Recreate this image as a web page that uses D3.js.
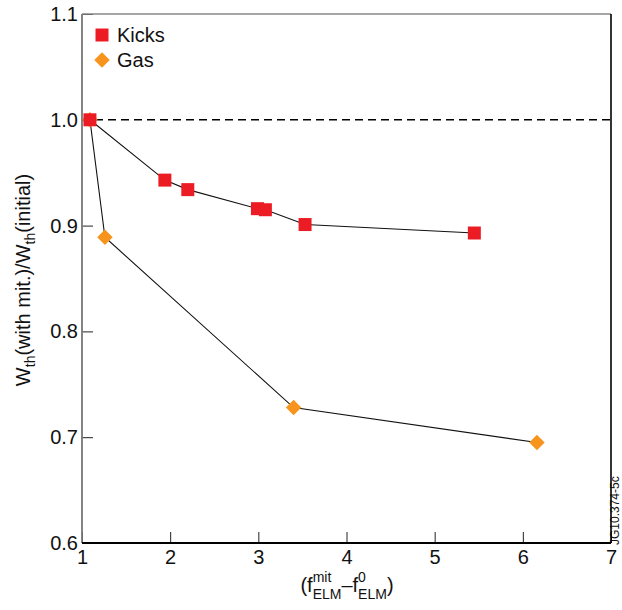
<!DOCTYPE html>
<html>
<head>
<meta charset="utf-8">
<script src="https://cdn.jsdelivr.net/npm/d3@7"></script>
<style>
  body { margin: 0; background: #fff; }
  text { font-family: "Liberation Sans", Arial, sans-serif; fill: #111; }
</style>
</head>
<body>
<div id="chart"></div>
<script>
const width = 622,
  height = 610,
  margin = { top: 14, right: 11, bottom: 67, left: 82 };

// data
const kicksX = [1.09, 1.94, 2.2, 2.99, 3.08, 3.53, 5.45];
const kicksY = [1.0, 0.943, 0.934, 0.916, 0.915, 0.901, 0.893];
const gasX = [1.09, 1.26, 3.4, 6.16];
const gasY = [1.0, 0.889, 0.728, 0.695];
const xTicks = [1, 2, 3, 4, 5, 6, 7];
const yTicks = [0.6, 0.7, 0.8, 0.9, 1.0, 1.1];
const refLine = 1.0;

const svg = d3.select("#chart")
  .append("svg")
  .attr("width", width)
  .attr("height", height);

const x = d3.scaleLinear().domain([1, 7]).range([margin.left, width - margin.right]);
const y = d3.scaleLinear().domain([0.6, 1.1]).range([height - margin.bottom, margin.top]);

const kicks = kicksX.map((v, i) => ({ x: v, y: kicksY[i] }));
const gas = gasX.map((v, i) => ({ x: v, y: gasY[i] }));

// reference dashed line
svg.append("line")
  .attr("x1", x(1)).attr("x2", x(7))
  .attr("y1", y(refLine)).attr("y2", y(refLine))
  .style("stroke", "#000")
  .style("stroke-width", 1.6)
  .style("stroke-dasharray", "8,5");

// axes (ticks pointing inward)
const xAxis = svg.append("g")
  .attr("transform", `translate(0,${y(0.6)})`)
  .call(d3.axisBottom(x).tickValues(xTicks).tickFormat(d3.format("d")).tickSizeInner(-11).tickSizeOuter(0).tickPadding(6));
xAxis.select(".domain").remove();
xAxis.selectAll("line").style("stroke", "#222").style("stroke-width", 1);
xAxis.selectAll("text").style("font-size", "20px").attr("dy", "0.9em").attr("y", 3);

const yAxis = svg.append("g")
  .attr("transform", `translate(${x(1)},0)`)
  .call(d3.axisLeft(y).tickValues(yTicks).tickFormat(d3.format(".1f")).tickSizeInner(-11).tickSizeOuter(0).tickPadding(5));
yAxis.select(".domain").remove();
yAxis.selectAll("line").style("stroke", "#222").style("stroke-width", 1);
yAxis.selectAll("text").style("font-size", "20px").attr("x", -4);

// frame: left/top grey, right/bottom black
svg.append("line").attr("x1", x(1)).attr("x2", x(1)).attr("y1", y(1.1)).attr("y2", y(0.6))
  .style("stroke", "#777").style("stroke-width", 1.8);
svg.append("line").attr("x1", x(1)).attr("x2", x(7)).attr("y1", y(1.1)).attr("y2", y(1.1))
  .style("stroke", "#888").style("stroke-width", 1.6);
svg.append("line").attr("x1", x(7)).attr("x2", x(7)).attr("y1", y(1.1)).attr("y2", y(0.6))
  .style("stroke", "#000").style("stroke-width", 1.6);
svg.append("line").attr("x1", x(1)).attr("x2", x(7)).attr("y1", y(0.6)).attr("y2", y(0.6))
  .style("stroke", "#000").style("stroke-width", 1.8);

const line = d3.line().x(d => x(d.x)).y(d => y(d.y));

svg.append("path").datum(gas).attr("d", line)
  .style("fill", "none").style("stroke", "#111").style("stroke-width", 1.1);
svg.append("path").datum(kicks).attr("d", line)
  .style("fill", "none").style("stroke", "#111").style("stroke-width", 1.1);

const diamond = d3.symbol().type(d3.symbolSquare).size(120);
const square = d3.symbol().type(d3.symbolSquare).size(169);

svg.selectAll(".gas").data(gas).enter().append("path")
  .attr("class", "gas")
  .attr("d", diamond)
  .attr("transform", d => `translate(${x(d.x)},${y(d.y)}) rotate(45)`)
  .style("fill", "#f7941d");

svg.selectAll(".kick").data(kicks).enter().append("path")
  .attr("class", "kick")
  .attr("d", square)
  .attr("transform", d => `translate(${x(d.x)},${y(d.y)})`)
  .style("fill", "#ec1c24");

// legend
const legend = svg.append("g").attr("transform", "translate(102,35)");
legend.append("path").attr("d", square).style("fill", "#ec1c24");
legend.append("text").attr("x", 15).attr("y", 7).style("font-size", "20px").text("Kicks");
legend.append("path").attr("d", diamond).attr("transform", "translate(0,25) rotate(45)").style("fill", "#f7941d");
legend.append("text").attr("x", 15).attr("y", 32).style("font-size", "20px").text("Gas");

// x title, built from pieces so sub/superscripts stack
const xt = svg.append("g");
const base = 592;
let cx = 0;
function piece(txt, size, dy) {
  const t = xt.append("text").attr("x", cx).attr("y", base + dy).style("font-size", size + "px").text(txt);
  return t.node().getComputedTextLength();
}
cx += piece("(f", 20, 0);
const w1 = Math.max(piece("mit", 14, -10), piece("ELM", 14, 7));
cx += w1;
cx += piece("\u2013f", 20, 0);
const w2 = Math.max(piece("0", 14, -10), piece("ELM", 14, 7));
cx += w2;
cx += piece(")", 20, 0);
xt.attr("transform", `translate(${347 - cx / 2},0)`);

// y title
const yt = svg.append("text")
  .attr("transform", "translate(30,280) rotate(-90)")
  .attr("text-anchor", "middle")
  .style("font-size", "20px");
yt.append("tspan").text("W");
yt.append("tspan").attr("dy", 5).style("font-size", "14px").text("th");
yt.append("tspan").attr("dy", -5).text("(with mit.)/W");
yt.append("tspan").attr("dy", 5).style("font-size", "14px").text("th");
yt.append("tspan").attr("dy", -5).text("(initial)");

// figure id
svg.append("text")
  .attr("transform", "translate(619,545) rotate(-90)")
  .style("font-size", "12px")
  .text("JG10.374-5c");
</script>
</body>
</html>
